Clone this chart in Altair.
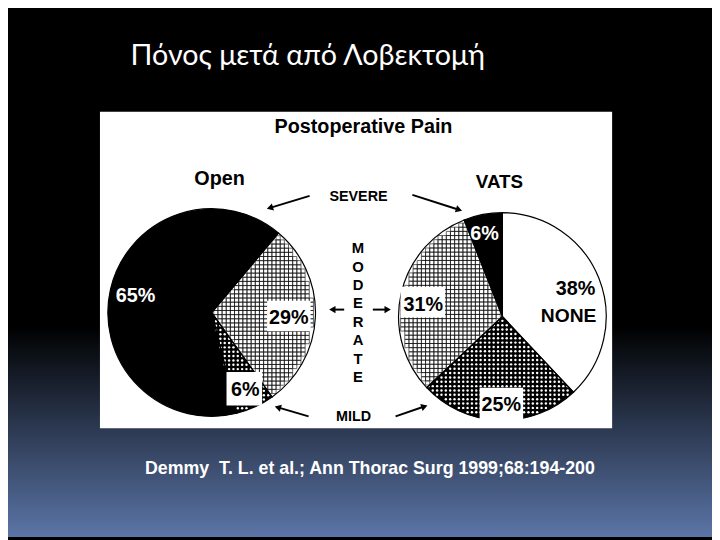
import math
import altair as alt
import pandas as pd

# ------------------------------------------------------------------ data
slide_title = "Πόνος μετά από Λοβεκτομή"
panel_title = "Postoperative Pain"
groups = ["Open", "VATS"]
pain_levels = ["SEVERE", "MODERATE", "MILD", "NONE"]
open_levels = ["SEVERE", "MODERATE", "MILD"]
open_values = [65, 29, 6]
vats_levels = ["SEVERE", "NONE", "MILD", "MODERATE"]
vats_values = [6, 38, 25, 31]
citation = "Demmy\u00a0 T. L. et al.; Ann Thorac Surg 1999;68:194-200"

# ------------------------------------------------------------------ layout (page pixels)
OFF = 8
W, H = 712, 532


def px(v):
    return v - OFF


PIES = {
    "Open": dict(cx=214, cy=313, r=105, start=166.0),
    "VATS": dict(cx=508, cy=317, r=105, start=338.4),
}
LEVEL_FILL = ["black", "white", "black", "white"]
LABEL_POS = {
    ("Open", "SEVERE"): (137, 302, "white", None),
    ("Open", "MODERATE"): (292, 325, "black", (270, 314, 301, 332)),
    ("Open", "MILD"): (248, 397, "black", (229, 265, 373, 407)),
    ("VATS", "SEVERE"): (490, 240, "white", None),
    ("VATS", "NONE"): (582, 295, "black", None),
    ("VATS", "MODERATE"): (428, 311, "black", (405, 450, 287, 318)),
    ("VATS", "MILD"): (507, 413, "black", (485, 529, 389, 424)),
}
ARROWS = [(313, 195, 270, 208), (417, 194, 467, 210),
          (348, 310, 333, 310), (377, 310, 395, 310),
          (312, 418, 278, 408), (400, 418, 432, 407)]

one = pd.DataFrame({"k": [0]})
layers = []

# background gradient
grad = alt.Gradient(
    gradient="linear",
    stops=[alt.GradientStop(offset=0, color="#000000"),
           alt.GradientStop(offset=0.6, color="#000000"),
           alt.GradientStop(offset=1, color="#5b75a7")],
    x1=0, x2=0, y1=0, y2=1)
layers.append(alt.Chart(one).mark_rect(color=grad).encode(
    x=alt.value(0), x2=alt.value(W), y=alt.value(0), y2=alt.value(H)))

# slide title
layers.append(alt.Chart(pd.DataFrame({"t": [slide_title]})).mark_text(
    font="Lato", fontSize=29, color="white", align="left", baseline="alphabetic"
).encode(x=alt.value(px(132)), y=alt.value(px(63)), text="t:N"))

# white panel
layers.append(alt.Chart(one).mark_rect(color="white").encode(
    x=alt.value(px(101)), x2=alt.value(px(619)), y=alt.value(px(110)), y2=alt.value(px(430))))


def pie(name, levels, values, outline=False):
    p = PIES[name]
    df = pd.DataFrame({"level": levels, "value": values, "ord": list(range(len(levels)))})
    a0 = math.radians(p["start"])
    enc = dict(
        theta=alt.Theta("value:Q", stack=True,
                        scale=alt.Scale(domain=[0, sum(values)], range=[a0, a0 + 2 * math.pi])),
        order=alt.Order("ord:Q"),
        x=alt.value(px(p["cx"])), y=alt.value(px(p["cy"])),
    )
    if outline:
        m = alt.Chart(df).mark_arc(radius=p["r"], filled=False, stroke="black", strokeWidth=1.2)
    else:
        m = alt.Chart(df).mark_arc(radius=p["r"], strokeWidth=0)
        enc["fill"] = alt.Fill("level:N", scale=alt.Scale(domain=pain_levels, range=LEVEL_FILL), legend=None)
    return m.encode(**enc)


def pattern(name, levels, values, level, spacing, rmargin):
    p = PIES[name]
    total = sum(values)
    k = levels.index(level)
    a0 = math.radians(p["start"] + 360.0 * sum(values[:k]) / total)
    span = math.radians(360.0 * values[k] / total)
    n = int(2 * p["r"] / spacing) + 3
    h = n // 2
    return (alt.Chart(alt.sequence(0, n * n, as_="i"))
            .transform_calculate(gx=f"floor(datum.i / {n}) - {h}")
            .transform_calculate(gy=f"(datum.i % {n}) - {h}")
            .transform_calculate(dx=f"datum.gx * {spacing}")
            .transform_calculate(dy=f"datum.gy * {spacing}")
            .transform_calculate(rr="sqrt(datum.dx * datum.dx + datum.dy * datum.dy)")
            .transform_calculate(t=f"((atan2(datum.dx, -datum.dy) - {a0}) % (2 * PI) + 2 * PI) % (2 * PI)")
            .transform_filter(f"datum.rr < {p['r'] - rmargin} && datum.t < {span}")
            .transform_calculate(X=f"{px(p['cx'])} + datum.dx")
            .transform_calculate(Y=f"{px(p['cy'])} + datum.dy"))


def grid_marks(ch, spacing):
    return ch.mark_square(filled=False, stroke="#000000", strokeWidth=0.85,
                          size=spacing * spacing).encode(
        x=alt.X("X:Q", scale=None, axis=None), y=alt.Y("Y:Q", scale=None, axis=None))


def dot_marks(ch):
    return ch.mark_circle(color="white", opacity=1, size=6).encode(
        x=alt.X("X:Q", scale=None, axis=None), y=alt.Y("Y:Q", scale=None, axis=None))


GS, DS = 4.2, 4.4
layers += [pie("Open", open_levels, open_values), pie("VATS", vats_levels, vats_values)]
layers += [
    grid_marks(pattern("Open", open_levels, open_values, "MODERATE", GS, 3.0), GS),
    grid_marks(pattern("VATS", vats_levels, vats_values, "MODERATE", GS, 3.0), GS),
    dot_marks(pattern("Open", open_levels, open_values, "MILD", DS, 1.5)),
    dot_marks(pattern("VATS", vats_levels, vats_values, "MILD", DS, 1.5)),
]
layers += [pie("Open", open_levels, open_values, True), pie("VATS", vats_levels, vats_values, True)]

# label boxes and text
boxes, texts = [], []


def add(text, x, y, size, color="black"):
    texts.append(dict(text=text, x=px(x), y=px(y), size=size, color=color))


for g, lv, vals in (("Open", open_levels, open_values), ("VATS", vats_levels, vats_values)):
    for lev, v in zip(lv, vals):
        x, y, col, box = LABEL_POS[(g, lev)]
        if box:
            boxes.append(dict(x=px(box[0]), x2=px(box[1]), y=px(box[2]), y2=px(box[3])))
        add(f"{v}%", x, y, 20, col)

add(pain_levels[3], 575, 323, 19.5)
add(panel_title, 367.5, 131, 20)
add(groups[0], 222, 184, 20)
add(groups[1], 505, 187, 19)
add(pain_levels[0], 362.5, 200, 14.5)
add(pain_levels[2], 357.5, 423, 14.5)
for i, ch in enumerate(pain_levels[1]):
    add(ch, 362, 253 + i * 18.6, 15)

layers.append(alt.Chart(pd.DataFrame(boxes)).mark_rect(color="white").encode(
    x=alt.X("x:Q", scale=None, axis=None), x2="x2:Q",
    y=alt.Y("y:Q", scale=None, axis=None), y2="y2:Q"))
layers.append(alt.Chart(pd.DataFrame(texts)).mark_text(
    font="Liberation Sans", fontWeight="bold", align="center", baseline="alphabetic").encode(
    x=alt.X("x:Q", scale=None, axis=None), y=alt.Y("y:Q", scale=None, axis=None),
    text="text:N", size=alt.Size("size:Q", scale=None, legend=None),
    color=alt.Color("color:N", scale=None, legend=None)))

# arrows
arows = []
for tx, ty, hx, hy in ARROWS:
    dx, dy = hx - tx, hy - ty
    L = math.hypot(dx, dy)
    ux, uy = dx / L, dy / L
    arows.append(dict(tx=px(tx), ty=px(ty), ex=px(hx - 4 * ux), ey=px(hy - 4 * uy),
                      hx=px(hx - 3 * ux), hy=px(hy - 3 * uy),
                      ang=(math.degrees(math.atan2(dx, -dy)) + 360) % 360))
adf = pd.DataFrame(arows)
layers.append(alt.Chart(adf).mark_rule(color="black", strokeWidth=2).encode(
    x=alt.X("tx:Q", scale=None, axis=None), x2="ex:Q",
    y=alt.Y("ty:Q", scale=None, axis=None), y2="ey:Q"))
layers.append(alt.Chart(adf).mark_point(shape="triangle-up", filled=True, color="black",
                                        opacity=1, size=55).encode(
    x=alt.X("hx:Q", scale=None, axis=None), y=alt.Y("hy:Q", scale=None, axis=None),
    angle=alt.Angle("ang:Q", scale=None)))

# citation
layers.append(alt.Chart(pd.DataFrame({"t": [citation]})).mark_text(
    font="Liberation Sans Narrow, Liberation Sans", fontWeight="bold", fontSize=18,
    color="white", align="center", baseline="alphabetic").encode(
    x=alt.value(px(374)), y=alt.value(px(476)), text="t:N"))

chart = (alt.layer(*layers)
         .resolve_scale(theta="independent")
         .properties(width=W, height=H, padding=0, autosize="none", background="black")
         .configure_view(stroke=None))

chart.save("out.html", embed_options={"renderer": "svg", "actions": False})
